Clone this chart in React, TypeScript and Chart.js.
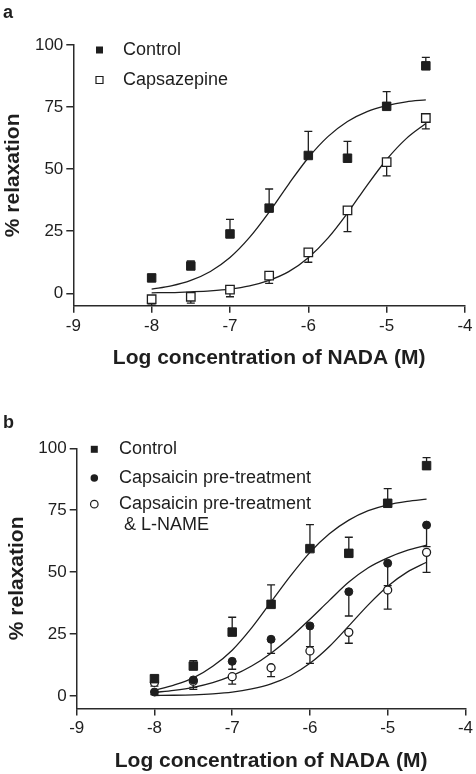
import React, { useEffect, useRef } from 'react';
import { Chart, registerables } from 'chart.js';

Chart.register(...registerables);

// ---------- data ----------
const LOG_CONC = [-8, -7.5, -7, -6.5, -6, -5.5, -5, -4.5];
const CURVE_X = [-8, -7.75, -7.5, -7.25, -7, -6.75, -6.5, -6.25, -6, -5.75, -5.5, -5.25, -5, -4.75, -4.5];
const X_TICKS = [-9, -8, -7, -6, -5, -4];
const Y_TICKS = [0, 25, 50, 75, 100];

// panel a
const A_LABELS = ['Control', 'Capsazepine'];
const A_CONTROL = [6.2, 11.0, 23.9, 34.3, 55.5, 54.4, 75.3, 91.6];
const A_CONTROL_SEM = [1.2, 2.0, 5.9, 7.7, 9.7, 6.8, 5.9, 3.4];
const A_CAPSAZEPINE = [-2.4, -1.4, 1.5, 7.1, 16.5, 33.4, 52.8, 70.6];
const A_CAPSAZEPINE_SEM = [2.4, 2.6, 2.9, 3.1, 4.0, 8.6, 5.5, 4.4];
const A_CONTROL_FIT = [1.7, 3.0, 5.2, 8.8, 14.4, 22.5, 32.7, 44.0, 54.6, 63.1, 69.2, 73.2, 75.6, 77.1, 77.9];
const A_CAPSAZEPINE_FIT = [0.2, 0.3, 0.6, 1.0, 1.7, 3.0, 5.2, 8.7, 14.3, 22.2, 32.3, 43.5, 53.9, 62.3, 68.4];

// panel b
const B_LABELS = ['Control', 'Capsaicin pre-treatment', 'Capsaicin pre-treatment', '& L-NAME'];
const B_CONTROL = [7.0, 12.1, 25.8, 37.0, 59.5, 57.6, 77.8, 93.0];
const B_CONTROL_SEM = [1.2, 2.2, 6.0, 7.9, 9.7, 6.5, 5.9, 3.2];
const B_CAPSAICIN = [1.6, 6.5, 14.0, 22.9, 28.3, 42.1, 53.6, 69.0];
const B_CAPSAICIN_SEM = [1.0, 3.8, 3.2, 5.7, 8.4, 9.8, 9.0, 8.7];
const B_LNAME = [5.5, 6.0, 7.8, 11.4, 18.2, 25.7, 42.8, 58.0];
const B_LNAME_SEM = [1.5, 2.5, 3.0, 3.6, 5.0, 4.4, 7.7, 8.1];
const B_CONTROL_FIT = [2.3, 4.4, 7.3, 12.0, 18.5, 27.5, 38.0, 48.5, 58.0, 65.5, 71.0, 74.8, 77.2, 78.6, 79.5];
const B_CAPSAICIN_FIT = [1.45, 2.3, 3.5, 5.4, 8.2, 12.1, 17.3, 23.7, 31.0, 38.6, 46.0, 51.8, 55.8, 58.8, 60.9];
const B_LNAME_FIT = [0.2, 0.3, 0.5, 0.9, 1.6, 2.9, 4.9, 8.2, 13.2, 20.0, 28.3, 36.8, 44.3, 50.0, 54.0];

const X_TITLE = 'Log concentration of NADA (M)';
const Y_TITLE = '% relaxation';

// ---------- styles ----------
const FONT = "'Liberation Sans', Arial, Helvetica, sans-serif";
const INK = '#1e1e1e';
const AXIS = '#2a2a2a';

type Marker = { style: 'rect' | 'circle'; filled: boolean; radius: number };

function markerDataset(label: string, values: number[], sem: number[], dir: number, m: Marker) {
  return {
    label,
    data: values.map((v, i) => ({ x: LOG_CONC[i], y: v })),
    errors: sem,
    errorDir: dir,
    showLine: false,
    pointStyle: m.style,
    pointRadius: m.radius,
    pointBorderWidth: m.filled ? 1 : 1.3,
    pointBackgroundColor: m.filled ? INK : '#ffffff',
    pointBorderColor: INK,
    backgroundColor: m.filled ? INK : '#ffffff',
    borderColor: INK,
  };
}

function curveDataset(label: string, values: number[]) {
  return {
    label,
    data: values.map((v, i) => ({ x: CURVE_X[i], y: v })),
    showLine: true,
    pointRadius: 0,
    borderWidth: 1.3,
    borderColor: INK,
    cubicInterpolationMode: 'monotone' as const,
    fill: false,
  };
}

const errorBarPlugin = {
  id: 'errorBars',
  beforeDatasetsDraw(chart: any) {
    const { ctx, scales } = chart;
    const xs = scales.x;
    const ys = scales.y;
    ctx.save();
    ctx.strokeStyle = INK;
    ctx.lineWidth = 1.3;
    chart.data.datasets.forEach((ds: any) => {
      if (!ds.errors) return;
      ds.data.forEach((pt: any, j: number) => {
        const e = ds.errors[j];
        const px = xs.getPixelForValue(pt.x);
        const p0 = ys.getPixelForValue(pt.y);
        const p1 = ys.getPixelForValue(pt.y + ds.errorDir * e);
        ctx.beginPath();
        ctx.moveTo(px, p0);
        ctx.lineTo(px, p1);
        ctx.moveTo(px - 4, p1);
        ctx.lineTo(px + 4, p1);
        ctx.stroke();
      });
    });
    ctx.restore();
  },
};

const decorPlugin = {
  id: 'panelDecor',
  afterDraw(chart: any, _args: any, opts: any) {
    const ctx = chart.ctx;
    ctx.save();
    ctx.fillStyle = INK;
    ctx.textAlign = 'left';
    ctx.textBaseline = 'alphabetic';
    ctx.font = `bold 18px ${FONT}`;
    ctx.fillText(opts.letter, opts.letterX, opts.letterY);
    ctx.font = `18px ${FONT}`;
    ctx.textBaseline = 'middle';
    (opts.items || []).forEach((it: any) => {
      const y = it.y;
      const x = opts.markerX;
      if (it.marker) {
        const m = it.marker;
        ctx.lineWidth = 1.2;
        ctx.strokeStyle = INK;
        ctx.fillStyle = m.filled ? INK : '#ffffff';
        ctx.beginPath();
        if (m.style === 'rect') {
          const s = m.size;
          ctx.rect(x - s / 2, y - s / 2, s, s);
        } else {
          ctx.arc(x, y, m.size / 2, 0, Math.PI * 2);
        }
        ctx.fill();
        if (!m.filled) ctx.stroke();
        ctx.fillStyle = INK;
      }
      ctx.fillText(it.text, opts.textX + (it.indent || 0), y);
    });
    ctx.restore();
  },
};

function makeOptions(p: {
  padLeft: number;
  padTop: number;
  padRight: number;
  padBottom: number;
  yWidth: number;
  xHeight: number;
  decor: any;
}) {
  const grid = {
    display: true,
    drawOnChartArea: false,
    drawTicks: true,
    tickLength: 7,
    tickWidth: 1.5,
    color: AXIS,
    lineWidth: 1.5,
  };
  return {
    responsive: false,
    animation: false as const,
    events: [] as any[],
    layout: { padding: { left: p.padLeft, top: p.padTop, right: p.padRight, bottom: p.padBottom } },
    plugins: {
      legend: { display: false },
      tooltip: { enabled: false },
      title: { display: false },
      panelDecor: p.decor,
    },
    scales: {
      x: {
        type: 'linear' as const,
        position: 'bottom' as const,
        min: -9,
        max: -4,
        afterBuildTicks: (s: any) => {
          s.ticks = X_TICKS.map((v) => ({ value: v }));
        },
        afterFit: (s: any) => {
          s.height = p.xHeight;
        },
        grid,
        border: { display: true, color: AXIS, width: 1.5 },
        ticks: { color: INK, padding: 3, font: { family: FONT, size: 17 } },
        title: {
          display: true,
          text: X_TITLE,
          color: INK,
          padding: 0,
          font: { family: FONT, size: 21, weight: 'bold' as const },
        },
      },
      y: {
        type: 'linear' as const,
        position: 'left' as const,
        min: -5,
        max: 100,
        afterBuildTicks: (s: any) => {
          s.ticks = Y_TICKS.map((v) => ({ value: v }));
        },
        afterFit: (s: any) => {
          s.width = p.yWidth;
        },
        grid,
        border: { display: true, color: AXIS, width: 1.5 },
        ticks: { color: INK, padding: 3, font: { family: FONT, size: 17 } },
        title: {
          display: true,
          text: Y_TITLE,
          color: INK,
          padding: 0,
          font: { family: FONT, size: 21, weight: 'bold' as const },
        },
      },
    },
  };
}

function Panel({ width, height, config }: { width: number; height: number; config: () => any }) {
  const ref = useRef<HTMLCanvasElement | null>(null);
  useEffect(() => {
    if (!ref.current) return;
    const chart = new Chart(ref.current, config());
    return () => chart.destroy();
  }, []);
  return <canvas ref={ref} width={width} height={height} style={{ display: 'block', width, height }} />;
}

const SQ: Marker = { style: 'rect', filled: true, radius: 6 };
const OPEN_SQ: Marker = { style: 'rect', filled: false, radius: 6 };
const DOT: Marker = { style: 'circle', filled: true, radius: 4 };
const RING: Marker = { style: 'circle', filled: false, radius: 4 };

function configA() {
  return {
    type: 'scatter' as const,
    data: {
      datasets: [
        markerDataset(A_LABELS[0], A_CONTROL, A_CONTROL_SEM, 1, SQ),
        markerDataset(A_LABELS[1], A_CAPSAZEPINE, A_CAPSAZEPINE_SEM, -1, OPEN_SQ),
        curveDataset(A_LABELS[0] + ' fit', A_CONTROL_FIT),
        curveDataset(A_LABELS[1] + ' fit', A_CAPSAZEPINE_FIT),
      ],
    },
    options: makeOptions({
      padLeft: 1,
      padTop: 45,
      padRight: 11,
      padBottom: 19.4,
      yWidth: 72.3,
      xHeight: 64.9,
      decor: {
        letter: 'a',
        letterX: 3,
        letterY: 18.3,
        markerX: 99.5,
        textX: 123,
        items: [
          { text: A_LABELS[0], y: 50, marker: { style: 'rect', filled: true, size: 7 } },
          { text: A_LABELS[1], y: 80, marker: { style: 'rect', filled: false, size: 7 } },
        ],
      },
    }),
    plugins: [errorBarPlugin, decorPlugin],
  };
}

function configB() {
  return {
    type: 'scatter' as const,
    data: {
      datasets: [
        markerDataset(B_LABELS[0], B_CONTROL, B_CONTROL_SEM, 1, SQ),
        markerDataset(B_LABELS[1], B_CAPSAICIN, B_CAPSAICIN_SEM, -1, DOT),
        markerDataset(B_LABELS[2] + ' ' + B_LABELS[3], B_LNAME, B_LNAME_SEM, -1, RING),
        curveDataset('Control fit', B_CONTROL_FIT),
        curveDataset('Capsaicin fit', B_CAPSAICIN_FIT),
        curveDataset('L-NAME fit', B_LNAME_FIT),
      ],
    },
    options: makeOptions({
      padLeft: 4.6,
      padTop: 58.3,
      padRight: 9.3,
      padBottom: 0,
      yWidth: 72.1,
      xHeight: 65.6,
      decor: {
        letter: 'b',
        letterX: 3,
        letterY: 38.3,
        markerX: 94.3,
        textX: 119,
        items: [
          { text: B_LABELS[0], y: 59.3, marker: { style: 'rect', filled: true, size: 7 } },
          { text: B_LABELS[1], y: 87.9, marker: { style: 'circle', filled: true, size: 7.5 } },
          { text: B_LABELS[2], y: 114.2, marker: { style: 'circle', filled: false, size: 7.5 } },
          { text: B_LABELS[3], y: 134.6, indent: 5 },
        ],
      },
    }),
    plugins: [errorBarPlugin, decorPlugin],
  };
}

export default function App() {
  return (
    <div style={{ position: 'absolute', left: 0, top: 0, width: 476, height: 774, background: '#ffffff' }}>
      <Panel width={476} height={390} config={configA} />
      <Panel width={476} height={384} config={configB} />
    </div>
  );
}
